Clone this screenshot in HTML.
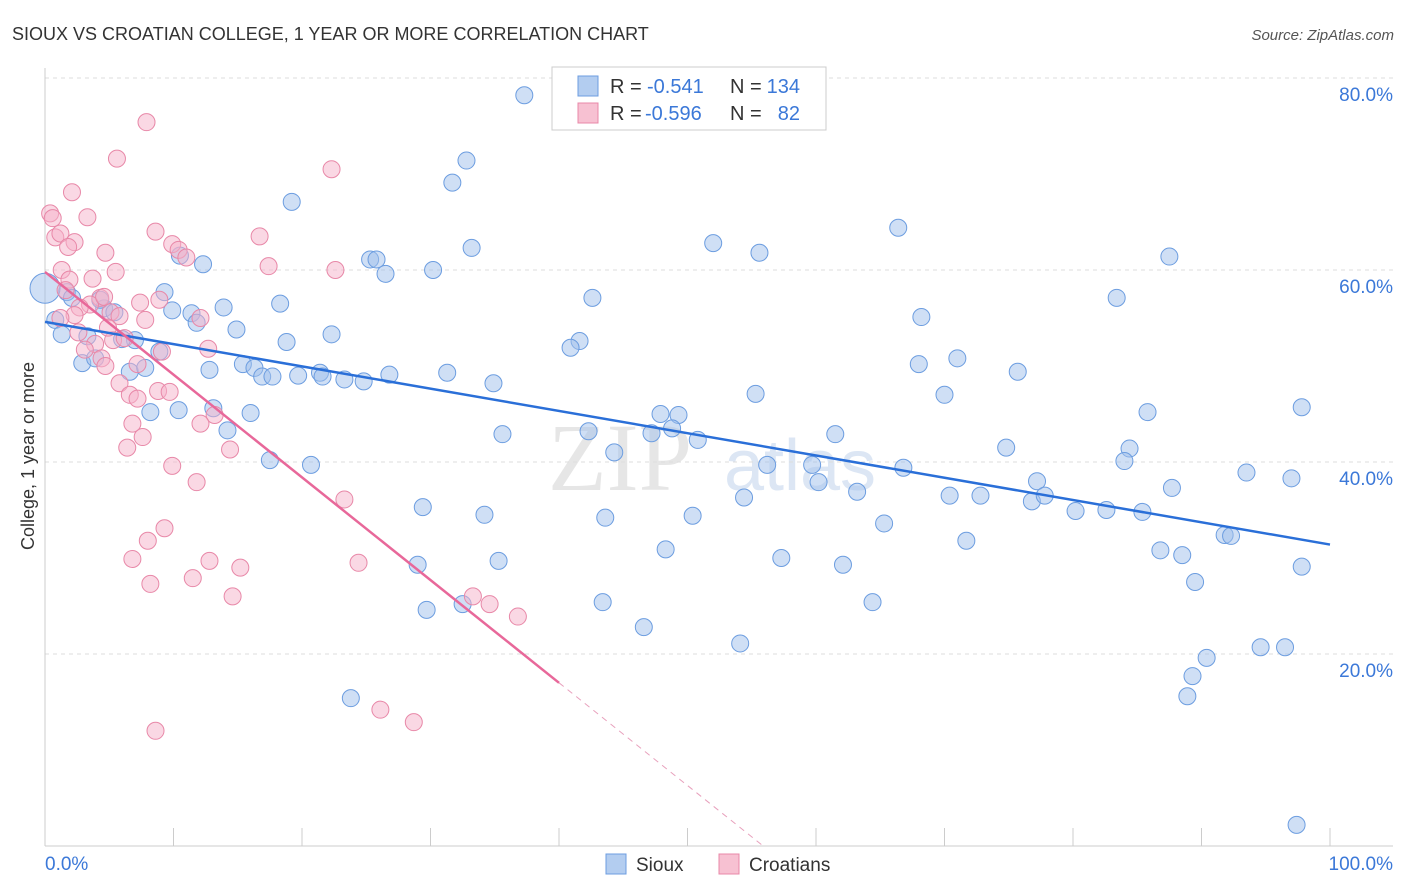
<!DOCTYPE html>
<html><head><meta charset="utf-8"><style>
body{margin:0;background:#fff;font-family:"Liberation Sans",sans-serif;}
svg{display:block}
</style></head><body>
<svg id="chart" width="1406" height="892">
<text x="12" y="40" font-size="18" fill="#333">SIOUX VS CROATIAN COLLEGE, 1 YEAR OR MORE CORRELATION CHART</text>
<text x="1394" y="40" font-size="15" fill="#555" font-style="italic" text-anchor="end">Source: ZipAtlas.com</text>
<text x="620" y="490" font-size="96" fill="#e6e6e6" font-family="Liberation Serif" text-anchor="middle">ZIP</text>
<text x="800" y="490" font-size="72" fill="#dce6f4" text-anchor="middle">atlas</text>
<text transform="translate(34,456) rotate(-90)" font-size="18" fill="#333" text-anchor="middle">College, 1 year or more</text>
<g id="grid"></g><g id="axes"></g><g id="marks"></g><g id="trends"></g>
<g>
<rect x="552" y="67" width="274" height="63" fill="#fff" stroke="#ccc"/>
<rect x="578" y="76" width="20" height="20" fill="#b3cdf0" stroke="#6c9de0"/>
<rect x="578" y="103" width="20" height="20" fill="#f7c1d2" stroke="#e888a8"/>
<text x="610" y="93" font-size="20" fill="#333">R =</text>
<text x="647" y="93" font-size="20" fill="#3b78d8">-0.541</text>
<text x="730" y="93" font-size="20" fill="#333">N =</text>
<text x="800" y="93" font-size="20" fill="#3b78d8" text-anchor="end">134</text>
<text x="610" y="120" font-size="20" fill="#333">R =</text>
<text x="645" y="120" font-size="20" fill="#3b78d8">-0.596</text>
<text x="730" y="120" font-size="20" fill="#333">N =</text>
<text x="800" y="120" font-size="20" fill="#3b78d8" text-anchor="end">82</text>
</g>
<g>
<rect x="606" y="854" width="20" height="20" fill="#b3cdf0" stroke="#6c9de0"/>
<text x="636" y="871" font-size="19" fill="#333">Sioux</text>
<rect x="719" y="854" width="20" height="20" fill="#f7c1d2" stroke="#e888a8"/>
<text x="749" y="871" font-size="19" fill="#333">Croatians</text>
</g>
</svg>
<script>
const yTicks=[20,40,60,80];
const yTickLabels=["20.0%","40.0%","60.0%","80.0%"];
const xTickLabels=["0.0%","100.0%"];
const siouxX=[37.3,32.8,31.7,19.2,66.4,52.0,55.6,33.2,10.5,12.3,25.3,25.8,26.5,30.2,87.5,83.4,42.6,18.3,13.9,9.3,9.9,11.4,11.8,14.9,22.3,18.8,68.2,41.6,40.9,71.0,68.0,75.7,15.4,16.3,16.9,12.8,17.7,19.7,21.4,21.6,23.3,24.8,26.8,31.3,34.9,55.3,70.0,85.8,97.8,47.9,49.3,48.8,47.2,50.8,61.5,35.6,42.3,44.3,84.4,84.0,74.8,56.2,59.7,60.2,66.8,63.2,77.2,54.4,70.4,72.8,76.8,77.8,80.2,82.6,85.4,87.7,93.5,97.0,91.8,92.3,29.4,34.2,43.6,50.4,65.3,71.7,86.8,88.5,48.3,57.3,62.1,29.0,35.3,89.5,97.8,43.4,64.4,29.7,32.5,46.6,54.1,90.4,94.6,96.5,89.3,88.9,23.8,97.4,0.8,1.3,1.7,2.1,2.9,3.9,3.3,4.6,5.4,4.3,6.6,7.8,7.0,8.2,10.4,13.1,14.2,16.0,17.5,20.7,8.9,6.0,0.0];
const siouxY=[78.2,71.4,69.1,67.1,64.4,62.8,61.8,62.3,61.5,60.6,61.1,61.1,59.6,60.0,61.4,57.1,57.1,56.5,56.1,57.7,55.8,55.5,54.5,53.8,53.3,52.5,55.1,52.6,51.9,50.8,50.2,49.4,50.2,49.8,48.9,49.6,48.9,49.0,49.3,48.9,48.6,48.4,49.1,49.3,48.2,47.1,47.0,45.2,45.7,45.0,44.9,43.5,43.0,42.3,42.9,42.9,43.2,41.0,41.4,40.1,41.5,39.7,39.7,37.9,39.4,36.9,38.0,36.3,36.5,36.5,35.9,36.5,34.9,35.0,34.8,37.3,38.9,38.3,32.4,32.3,35.3,34.5,34.2,34.4,33.6,31.8,30.8,30.3,30.9,30.0,29.3,29.3,29.7,27.5,29.1,25.4,25.4,24.6,25.2,22.8,21.1,19.6,20.7,20.7,17.7,15.6,15.4,2.2,54.8,53.3,57.7,57.1,50.3,50.8,53.1,56.0,55.6,56.9,49.4,49.8,52.7,45.2,45.4,45.6,43.3,45.1,40.2,39.7,51.5,52.8,58.1];
const croX=[7.9,5.6,22.3,2.1,0.4,0.6,3.3,0.8,1.2,2.3,1.8,8.6,9.9,10.4,11.0,16.7,4.7,5.5,17.4,22.6,1.3,1.9,3.7,1.6,4.3,3.5,4.6,2.7,2.3,1.2,5.1,7.4,5.8,8.9,7.8,12.1,2.6,3.9,5.3,6.2,3.1,4.4,4.9,9.1,7.2,4.7,12.7,5.8,6.6,7.2,8.8,9.7,13.2,12.1,6.8,7.6,6.4,14.4,9.9,11.8,23.3,9.3,8.0,6.8,12.8,11.5,15.2,8.2,24.4,33.3,34.6,14.6,36.8,26.1,28.7,8.6];
const croY=[75.4,71.6,70.5,68.1,65.9,65.4,65.5,63.4,63.8,62.9,62.4,64.0,62.7,62.1,61.3,63.5,61.8,59.8,60.4,60.0,60.0,59.0,59.1,57.9,57.1,56.4,57.2,56.1,55.3,55.0,55.6,56.6,55.2,56.9,54.8,55.0,53.5,52.3,52.7,52.9,51.7,50.8,54.0,51.5,50.2,50.0,51.8,48.2,47.0,46.6,47.4,47.3,44.9,44.0,44.0,42.6,41.5,41.3,39.6,37.9,36.1,33.1,31.8,29.9,29.7,27.9,29.0,27.3,29.5,26.0,25.2,26.0,23.9,14.2,12.9,12.0];
const siouxTrend=[54.6,31.4];
const croTrend=[59.8,-1.07];
const NS="http://www.w3.org/2000/svg";
const X=v=>45+v*12.85, Y=v=>846-v*9.6;
function mk(p,tag,a){const e=document.createElementNS(NS,tag);for(const k in a)e.setAttribute(k,a[k]);p.appendChild(e);return e;}
const grid=document.getElementById('grid'),axes=document.getElementById('axes'),marks=document.getElementById('marks'),tr=document.getElementById('trends');
mk(grid,'line',{x1:45,x2:1393,y1:78,y2:78,stroke:'#ddd','stroke-dasharray':'4,4'});
yTicks.forEach((t,i)=>{
 const l=mk(grid,'line',{x1:45,x2:1393,y1:Y(t),y2:Y(t),stroke:'#ddd','stroke-dasharray':'4,4'});
 
 
 const tx=mk(axes,'text',{x:1393,y:Y(t)+23,'font-size':19,fill:'#3b78d8','text-anchor':'end'});
 tx.textContent=yTickLabels[i];
 
 
});
mk(axes,'line',{x1:45,x2:45,y1:68,y2:846,stroke:'#ccc'});
mk(axes,'line',{x1:45,x2:1393,y1:846,y2:846,stroke:'#ccc'});
for(let i=1;i<=10;i++){mk(axes,'line',{x1:X(i*10),x2:X(i*10),y1:828,y2:846,stroke:'#ccc'});}
const xl0=mk(axes,'text',{x:45,y:870,'font-size':19,fill:'#3b78d8'});xl0.textContent=xTickLabels[0];


const xl1=mk(axes,'text',{x:1393,y:870,'font-size':19,fill:'#3b78d8','text-anchor':'end'});xl1.textContent=xTickLabels[1];


siouxX.forEach((v,i)=>{
 const c=mk(marks,'circle',{cx:X(v),cy:Y(siouxY[i]),r:i==siouxX.length-1?15:8.5,fill:'rgba(160,192,236,0.5)',stroke:'#6c9de0','stroke-width':1});
 
 
});
croX.forEach((v,i)=>{
 const c=mk(marks,'circle',{cx:X(v),cy:Y(croY[i]),r:8.5,fill:'rgba(245,178,202,0.5)',stroke:'#e888a8','stroke-width':1});
 
 
});
const sl=mk(tr,'line',{x1:X(0),y1:Y(siouxTrend[0]),x2:X(100),y2:Y(siouxTrend[1]),stroke:'#2a6fd8','stroke-width':2.5});


const xe=40, x0=-croTrend[0]/croTrend[1];
const cl=mk(tr,'line',{x1:X(0),y1:Y(croTrend[0]),x2:X(xe),y2:Y(croTrend[0]+croTrend[1]*xe),stroke:'#e8689a','stroke-width':2.5});


const cd=mk(tr,'line',{x1:X(xe),y1:Y(croTrend[0]+croTrend[1]*xe),x2:X(x0),y2:Y(0),stroke:'#e8a0bc','stroke-width':1,'stroke-dasharray':'6,5'});


</script>
</body></html>
